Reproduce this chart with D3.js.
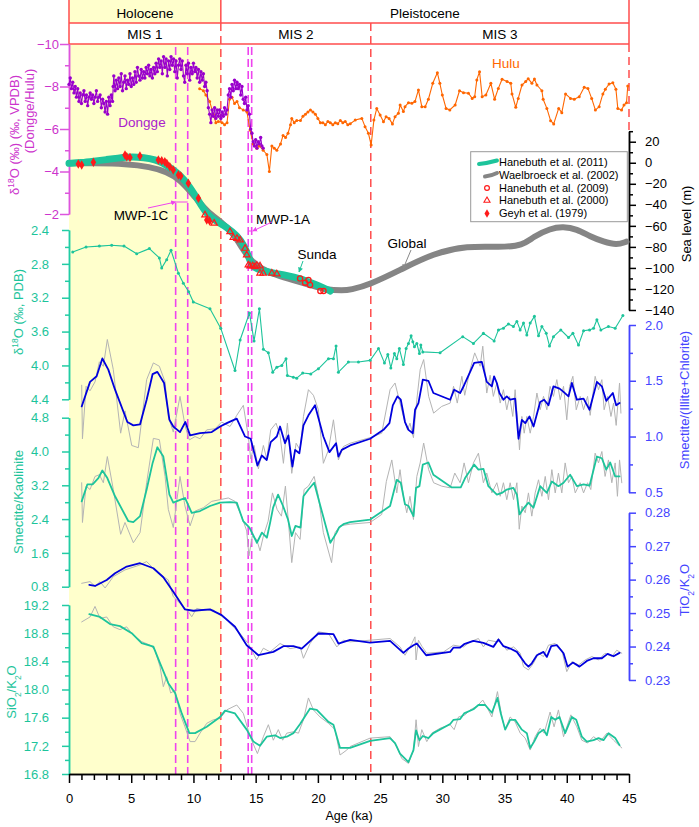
<!DOCTYPE html>
<html><head><meta charset="utf-8">
<script src="https://cdn.jsdelivr.net/npm/d3@7"></script>
<style>body{margin:0;background:#fff;} svg{display:block;font-family:"Liberation Sans",Arial,sans-serif;}</style>
</head><body><svg id="c" width="699" height="827"></svg>
<script>
// ---------------- DATA ----------------
const ageTicksMajor = [0,5,10,15,20,25,30,35,40,45];
const periods = [["Holocene",0,12.2],["Pleistocene",12.2,45]];
const misStages = [["MIS 1",0,12.2],["MIS 2",12.2,24.25],["MIS 3",24.25,45]];
const redDashAges = [12.2,24.25];
const mwpAges = [8.57,9.54,14.4,14.68];

const dongge = [[0,-8.1],[0.1,-8.4],[0.2,-7.9],[0.3,-8.2],[0.4,-7.7],[0.5,-8.0],[0.6,-7.5],[0.7,-7.9],[0.8,-7.3],[0.9,-7.7],
[1.0,-7.2],[1.1,-7.6],[1.2,-7.8],[1.3,-7.3],[1.4,-7.6],[1.5,-7.1],[1.6,-7.5],[1.7,-7.7],[1.8,-7.4],[1.9,-7.6],
[2.0,-7.2],[2.1,-7.5],[2.2,-7.8],[2.3,-7.3],[2.4,-7.5],[2.5,-7.6],[2.6,-7.0],[2.7,-7.4],[2.8,-7.2],[2.9,-6.8],
[3.0,-7.3],[3.1,-6.7],[3.2,-7.5],[3.3,-7.1],[3.4,-7.6],[3.5,-7.3],[3.55,-8.0],[3.6,-8.5],[3.7,-7.8],[3.8,-8.3],
[3.9,-7.9],[4.0,-8.4],[4.1,-8.0],[4.2,-8.6],[4.3,-7.8],[4.4,-8.2],[4.5,-8.5],[4.6,-7.9],[4.7,-8.3],[4.8,-8.1],
[4.9,-8.6],[5.0,-8.0],[5.1,-8.4],[5.2,-8.1],[5.3,-8.7],[5.4,-8.2],[5.5,-8.9],[5.6,-8.5],[5.7,-8.3],[5.8,-8.8],
[5.9,-8.4],[6.0,-8.7],[6.1,-8.4],[6.2,-8.9],[6.3,-8.6],[6.4,-9.0],[6.5,-8.5],[6.6,-8.8],[6.7,-8.4],[6.8,-8.9],
[6.9,-8.6],[7.0,-9.1],[7.1,-8.7],[7.2,-9.3],[7.3,-8.9],[7.4,-9.2],[7.5,-8.6],[7.6,-9.4],[7.7,-8.9],[7.8,-9.3],
[7.9,-8.5],[8.0,-9.2],[8.1,-8.8],[8.2,-9.4],[8.3,-9.0],[8.4,-9.3],[8.5,-8.7],[8.6,-9.2],[8.7,-8.4],[8.8,-9.0],
[8.9,-9.3],[9.0,-8.8],[9.1,-9.2],[9.2,-8.5],[9.3,-8.2],[9.4,-9.0],[9.5,-8.6],[9.6,-9.1],[9.7,-8.3],[9.8,-8.9],
[9.9,-8.6],[10.0,-9.1],[10.1,-8.7],[10.2,-8.9],[10.3,-8.4],[10.4,-8.8],[10.5,-8.2],[10.6,-8.7],[10.7,-8.3],[10.8,-8.6],
[10.9,-8.0],[11.0,-8.2],[11.1,-7.8],[11.2,-7.0],[11.3,-6.7],[11.4,-6.3],[11.5,-6.9],[11.6,-6.6],[11.7,-7.0],[11.8,-6.5],
[11.9,-6.9],[12.0,-6.6],[12.1,-6.9],[12.2,-6.5],[12.3,-6.8],[12.4,-6.6],[12.5,-7.0],[12.6,-6.7],[12.7,-6.9],[12.8,-7.6],
[12.9,-7.9],[13.0,-7.5],[13.1,-8.1],[13.2,-7.8],[13.3,-8.3],[13.4,-7.9],[13.5,-8.2],[13.6,-7.9],[13.7,-8.1],[13.8,-7.6],
[13.9,-8.0],[14.0,-7.4],[14.1,-7.2],[14.2,-7.5],[14.3,-6.9],[14.4,-7.1],[14.5,-6.7],[14.6,-6.0],[14.7,-5.8],[14.8,-5.4],
[14.9,-5.2],[15.0,-5.5],[15.1,-5.1],[15.2,-5.4],[15.3,-5.3],[15.4,-5.6],[15.5,-5.2],[15.6,-5.1]];

const hulu = [[10.5,-7.9],[10.8,-7.8],[11.0,-7.6],[11.3,-7.3],[11.6,-6.7],[11.8,-6.3],[12.0,-6.35],[12.3,-6.3],[12.5,-6.2],[12.7,-6.3],
[12.9,-7.4],[13.1,-7.5],[13.3,-7.2],[13.5,-7.3],[13.7,-7.0],[14.0,-6.9],[14.3,-6.8],[14.55,-5.95],[14.8,-5.3],[15.1,-5.1],
[15.3,-5.2],[15.6,-5.0],[15.9,-4.8],[16.1,-4.0],[16.3,-5.2],[16.5,-5.1],[16.7,-5.0],[17.0,-5.3],[17.2,-5.7],[17.4,-5.6],
[17.6,-5.8],[17.8,-6.2],[17.9,-6.5],[18.1,-6.3],[18.3,-6.4],[18.6,-6.4],[18.8,-6.6],[19.0,-6.7],[19.2,-6.8],[19.4,-6.9],
[19.6,-6.8],[19.8,-6.7],[20.0,-6.5],[20.2,-6.3],[20.4,-6.3],[20.6,-6.2],[20.8,-6.35],[21.0,-6.3],[21.2,-6.2],[21.4,-6.3],
[21.6,-6.25],[21.8,-6.4],[22.0,-6.3],[22.2,-6.35],[22.4,-6.2],[22.6,-6.25],[23.0,-6.42],[23.53,-6.5],[23.79,-6.11],[24.06,-5.8],
[24.28,-5.25],[24.5,-6.42],[24.73,-6.97],[25.0,-6.66],[25.27,-6.34],[25.48,-6.58],[25.72,-6.5],[25.99,-6.24],[26.2,-6.58],[26.47,-6.74],
[26.61,-7.13],[26.87,-6.82],[27.0,-7.05],[27.28,-7.24],[27.55,-7.21],[27.8,-7.29],[28.08,-7.84],[28.35,-7.05],[28.62,-7.05],[28.88,-7.4],
[29.23,-8.15],[29.6,-8.65],[29.8,-8.15],[30.0,-7.6],[30.3,-6.97],[30.6,-6.9],[31.03,-7.13],[31.38,-7.8],[31.7,-7.71],[32.1,-7.68],
[32.4,-7.44],[32.6,-7.52],[32.77,-8.31],[32.99,-8.7],[33.2,-7.52],[33.5,-7.6],[33.9,-8.15],[34.2,-7.4],[34.5,-7.91],[34.8,-8.34],
[35.2,-8.23],[35.5,-8.15],[35.6,-7.65],[35.9,-7.02],[36.1,-7.44],[36.4,-8.07],[36.7,-8.23],[36.9,-8.37],[37.2,-8.15],[37.4,-8.35],
[37.6,-8.07],[38.0,-7.8],[38.1,-7.4],[38.4,-6.97],[38.7,-6.39],[38.95,-6.24],[39.35,-6.97],[39.6,-6.77],[39.9,-7.65],[40.3,-7.44],
[40.6,-7.4],[41.0,-7.52],[41.4,-7.96],[41.7,-7.91],[42.0,-7.44],[42.3,-6.89],[42.6,-7.05],[42.9,-7.65],[43.1,-7.87],[43.4,-8.12],
[43.7,-8.18],[43.95,-7.87],[44.1,-6.97],[44.4,-6.89],[44.6,-7.13],[44.8,-7.24],[44.9,-8.02]];

const seaSunda = [[0,-0.5],[1,0],[2,1.5],[3,3],[4,4.5],[4.6,5.3],[5.5,5.5],[6.5,4.2],[7.3,1.5],[7.85,-2.5],[8.4,-7],[8.9,-11.7],
[9.6,-21],[10.3,-34],[11.1,-50],[11.9,-56],[12.7,-61.5],[13.5,-69],[14.15,-80],[14.4,-89],[14.8,-100],[15.4,-102],[15.9,-103.6],
[16.7,-105.5],[17.5,-107],[18.57,-110],[19.6,-114.7],[20.4,-118.5],[21.0,-122]];
const seaGlobal = [[0,-0.5],[2,-0.5],[4.6,-1],[6.5,-3.8],[7.85,-8.5],[8.9,-15.8],[10.0,-30.7],[11.1,-46.6],[12.2,-56],[13.2,-67],
[14.0,-83],[14.6,-92.5],[15.35,-100.5],[16.7,-107],[18.0,-111.6],[19.4,-116.3],[20.7,-121],[22.0,-121.5],[22.6,-121],[24.2,-115.7],
[26.6,-102],[29.3,-86],[32.0,-79],[34.6,-80.5],[36.5,-78.6],[37.3,-70.3],[38.7,-62.4],[39.7,-60.8],[40.8,-63],[41.9,-70.3],
[42.95,-75],[44.0,-78.3],[44.8,-75]];
const hane2009 = [[18.57,-110],[18.97,-114],[19.24,-111.5],[19.37,-116.3],[20.2,-122],[20.45,-122]];
const hane2000 = [[10.93,-49.7],[11.66,-57.6],[12.94,-65.6],[13.2,-71],[13.5,-72],[13.75,-73.5],[14.15,-81.4],[14.28,-87.7],[14.41,-97.3],
[14.55,-98.2],[14.76,-98.2],[14.95,-98.9],[15.1,-97.6],[15.35,-98.2],[15.35,-105],[15.6,-105],[16.3,-105],[16.7,-105.8]];
const geyh1979 = [[0.75,-1.2],[1.02,-2.2],[1.96,0.4],[4.5,7.3],[4.64,5.7],[4.9,5.1],[5.7,6.4],[7.18,2.6],[7.45,1.9],[7.7,1.0],
[7.86,-0.6],[8.1,-3.8],[8.38,-6.9],[8.79,-11.7],[8.98,-12.6],[9.59,-19.6],[10.4,-33.8],[11.07,-54.5],[11.3,-55.4]];

const d18O = [[0.3,2.66],[1.37,2.60],[2.44,2.59],[3.43,2.58],[4.42,2.59],[5.44,2.68],[6.46,2.62],[7.26,2.73],[7.45,2.85],[7.85,2.75],
[8.2,2.64],[8.79,2.91],[9.19,3.03],[9.62,3.13],[9.99,3.25],[11.33,3.33],[12.19,3.56],[13.34,4.06],[13.75,3.70],[14.5,3.38],
[14.87,3.71],[15.3,3.33],[15.62,3.81],[16.02,3.85],[16.37,4.08],[16.7,4.02],[17.1,4.0],[17.44,3.92],[17.55,4.12],[18.03,4.14],
[18.3,4.15],[18.78,4.09],[19.43,4.10],[20.04,4.04],[20.85,3.92],[21.25,3.92],[21.46,3.77],[21.65,4.08],[22.45,3.96],[23.26,3.96],
[24.2,3.94],[24.87,3.80],[25.35,3.97],[25.62,3.87],[25.86,4.03],[26.15,3.86],[26.34,3.92],[26.55,3.80],[26.87,3.99],[27.09,3.80],
[27.28,3.74],[27.49,3.65],[27.63,3.72],[27.76,3.78],[27.95,3.74],[28.16,3.86],[28.27,3.76],[28.43,3.84],[29.82,3.85],[31.64,3.66],
[32.5,3.74],[33.3,3.62],[34.16,3.71],[34.51,3.58],[34.91,3.56],[35.31,3.51],[35.71,3.54],[35.99,3.48],[36.25,3.58],[36.52,3.50],
[36.79,3.64],[37.06,3.50],[37.4,3.42],[37.73,3.65],[38.0,3.54],[38.35,3.62],[38.61,3.77],[38.93,3.66],[39.52,3.58],[40.14,3.67],
[40.49,3.62],[40.94,3.76],[41.35,3.59],[41.83,3.58],[42.15,3.56],[42.42,3.46],[42.74,3.58],[43.35,3.54],[43.89,3.56],[44.51,3.41]];

const sicRaw = [[1.02,1.46],[1.08,0.98],[1.37,1.45],[1.69,1.41],[2.09,1.49],[2.44,1.67],[2.76,1.63],[3.08,1.87],[3.56,1.60],[4.15,1.03],
[4.5,1.23],[5.04,0.92],[5.57,0.90],[6.24,1.51],[6.78,1.66],[7.26,1.63],[7.72,1.49],[7.98,1.18],[8.38,1.04],[8.92,1.36],
[9.32,1.10],[9.67,0.97],[10.13,1.00],[10.53,0.98],[11.07,1.06],[11.74,1.07],[12.27,1.13],[12.94,1.09],[13.48,1.19],[14.01,1.28],
[14.41,1.00],[14.6,0.80],[14.87,0.92],[15.22,0.71],[15.62,0.92],[15.89,0.80],[16.21,1.06],[16.64,1.12],[16.96,1.01],[17.23,0.76],
[17.55,1.12],[17.9,0.67],[18.25,0.94],[18.57,0.88],[18.84,1.18],[19.24,1.42],[19.64,1.37],[20.04,1.24],[20.44,0.76],[20.85,0.88],
[21.25,1.15],[21.65,0.79],[22.05,0.91],[22.59,0.94],[24.2,0.99],[25.13,1.03],[25.8,1.42],[26.2,1.48],[26.6,1.30],[26.87,1.18],
[27.2,1.06],[27.4,1.12],[27.68,0.99],[27.95,1.33],[28.22,1.60],[28.5,1.69],[28.9,1.36],[29.3,1.21],[29.95,1.27],[30.63,1.30],
[30.9,1.45],[31.2,1.30],[31.57,1.54],[31.8,1.37],[32.23,1.60],[32.6,1.75],[33.04,1.63],[33.25,1.81],[33.57,1.39],[33.84,1.55],
[34.1,1.36],[34.38,1.48],[34.65,1.30],[34.91,1.42],[35.18,1.24],[35.4,1.36],[35.66,1.18],[35.85,1.42],[36.06,1.12],[36.2,0.88],
[36.39,1.18],[36.58,1.03],[36.79,1.18],[37.06,1.03],[37.33,1.18],[37.6,1.39],[37.86,1.24],[38.13,1.36],[38.4,1.24],[38.66,1.45],
[38.93,1.36],[39.2,1.51],[39.47,1.33],[39.74,1.45],[40.0,1.15],[40.22,1.45],[40.49,1.54],[40.76,1.24],[41.08,1.36],[41.35,1.24],
[41.67,1.36],[41.88,1.19],[42.28,1.54],[42.55,1.42],[42.82,1.51],[43.0,1.24],[43.28,1.36],[43.55,1.18],[43.76,1.30],[43.97,1.10],
[44.24,1.48],[44.35,1.21]];
const sicSmooth = [[1.02,1.27],[1.69,1.49],[2.22,1.54],[2.68,1.70],[3.16,1.60],[3.7,1.42],[4.69,1.13],[5.17,1.10],[5.71,1.11],[6.24,1.33],
[6.72,1.56],[7.1,1.58],[7.64,1.48],[8.07,1.15],[8.38,1.09],[8.92,1.04],[9.35,1.13],[9.73,1.01],[10.53,1.03],[11.47,1.04],
[12.14,1.09],[12.68,1.12],[13.48,1.16],[14.15,1.00],[14.6,0.98],[15.14,0.74],[15.49,0.83],[15.89,0.79],[16.21,0.95],[16.7,1.00],
[16.96,1.09],[17.36,0.94],[17.63,1.01],[17.95,0.73],[18.17,0.88],[18.51,0.85],[18.84,1.10],[19.24,1.19],[19.77,1.28],[20.44,1.00],
[20.93,0.86],[21.46,0.94],[21.65,0.82],[21.92,0.88],[22.59,0.92],[24.2,0.98],[25.27,1.06],[25.75,1.12],[26.02,1.28],[26.39,1.36],
[26.66,1.33],[27.0,1.13],[27.28,1.06],[27.63,1.03],[27.81,1.24],[28.08,1.30],[28.43,1.51],[28.88,1.50],[29.28,1.39],[30.63,1.33],
[30.95,1.42],[31.43,1.39],[31.75,1.46],[32.56,1.66],[33.17,1.67],[33.57,1.49],[33.98,1.45],[34.16,1.54],[34.38,1.48],[34.59,1.39],
[34.91,1.33],[35.18,1.36],[35.45,1.33],[35.85,1.34],[36.12,0.98],[36.39,1.15],[36.66,1.12],[37.0,1.18],[37.33,1.09],[37.86,1.31],
[38.18,1.33],[38.53,1.28],[38.93,1.45],[39.42,1.43],[39.74,1.40],[40.14,1.36],[40.41,1.48],[40.81,1.33],[41.35,1.34],[41.83,1.24],
[42.42,1.49],[42.82,1.45],[43.17,1.32],[43.7,1.39],[43.97,1.28],[44.24,1.30]];

const skRaw = [[1.02,3.26],[1.08,2.32],[1.37,3.18],[1.69,3.10],[2.09,3.41],[2.44,3.45],[2.76,3.26],[3.08,3.88],[3.56,3.10],[4.15,2.04],
[4.5,2.32],[5.17,1.84],[5.71,2.08],[6.24,3.26],[6.78,4.31],[7.26,4.28],[7.72,3.41],[7.98,2.63],[8.38,2.20],[8.92,3.41],
[9.32,2.71],[9.73,2.24],[10.13,2.59],[10.8,2.67],[11.47,2.82],[12.13,2.86],[12.8,2.90],[13.34,2.82],[13.87,2.47],[14.28,2.12],
[14.46,1.53],[14.73,2.0],[15.08,1.92],[15.35,1.65],[15.62,2.0],[16.0,2.35],[16.35,3.02],[16.72,2.63],[17.07,2.47],[17.39,3.18],
[17.66,2.24],[17.9,1.37],[18.2,2.08],[18.57,1.92],[18.89,3.10],[19.24,3.18],[19.7,3.41],[20.04,2.94],[20.44,2.08],[21.1,1.37],
[21.38,2.08],[21.78,2.24],[22.59,2.28],[24.2,2.32],[25.13,2.51],[25.5,3.29],[25.94,3.80],[26.34,3.02],[26.6,3.57],[26.87,2.94],
[27.14,2.55],[27.4,2.94],[27.68,2.39],[27.95,3.41],[28.22,3.73],[28.5,4.20],[28.9,3.57],[29.3,3.26],[29.95,3.18],[30.63,3.14],
[31.0,3.49],[31.43,3.26],[31.75,3.73],[32.1,3.26],[32.5,3.73],[32.9,3.96],[33.3,3.26],[33.57,3.49],[33.98,3.02],[34.38,3.26],
[34.65,2.94],[34.91,3.26],[35.18,2.86],[35.45,3.26],[35.72,2.86],[35.99,3.26],[36.18,2.16],[36.39,2.71],[36.66,2.55],[36.92,3.02],
[37.19,2.47],[37.46,3.02],[37.73,3.33],[38.0,2.94],[38.27,3.41],[38.53,2.86],[38.8,3.57],[39.07,3.02],[39.33,3.49],[39.6,3.02],
[39.87,3.73],[40.14,3.26],[40.41,3.41],[40.68,3.02],[41.08,3.26],[41.35,3.02],[41.67,3.26],[41.93,3.10],[42.28,3.96],[42.55,3.73],
[42.82,4.00],[43.08,3.41],[43.35,3.80],[43.62,3.26],[43.89,3.73],[44.07,2.94],[44.24,3.80],[44.42,3.26]];
const skSmooth = [[1.02,2.82],[1.47,3.22],[1.9,3.22],[2.36,3.37],[2.68,3.55],[3.08,3.37],[3.7,2.94],[4.77,2.35],[5.17,2.33],[5.71,2.47],
[6.24,3.10],[6.72,3.73],[7.1,4.10],[7.58,3.88],[8.07,2.98],[8.38,2.79],[8.98,2.86],[9.32,2.90],[9.86,2.55],[10.53,2.59],
[11.33,2.71],[12.14,2.79],[12.94,2.80],[13.48,2.79],[14.0,2.35],[14.5,2.2],[15.1,1.84],[15.5,2.08],[15.9,1.96],[16.16,2.31],
[16.4,2.67],[16.8,2.98],[17.2,2.71],[17.6,2.39],[17.9,2.0],[18.2,2.24],[18.6,2.2],[18.84,2.94],[19.24,3.10],[19.7,3.26],
[20.2,2.71],[21.0,1.84],[21.5,2.08],[21.7,2.2],[22.05,2.28],[22.59,2.33],[24.2,2.39],[25.8,2.71],[26.34,3.33],[26.66,3.26],
[27.0,2.75],[27.28,2.71],[27.68,2.47],[27.89,3.14],[28.16,3.18],[28.43,3.69],[28.88,3.74],[29.28,3.45],[30.76,3.15],[31.48,3.15],
[31.83,3.37],[32.56,3.69],[32.9,3.57],[33.3,3.59],[33.7,3.18],[34.38,2.98],[34.78,3.02],[35.18,3.10],[35.71,3.14],[35.99,2.98],
[36.2,2.51],[36.47,2.63],[36.92,2.79],[37.32,2.67],[37.86,3.18],[38.4,3.02],[38.8,3.29],[39.33,3.18],[39.74,3.26],[40.27,3.45],
[40.81,3.18],[41.35,3.22],[41.83,3.19],[42.42,3.88],[42.82,3.84],[43.17,3.57],[43.49,3.74],[43.89,3.41],[44.24,3.41]];

const tiRaw = [[1.02,0.2589],[1.69,0.2594],[2.09,0.2580],[2.49,0.2594],[2.9,0.2575],[3.56,0.2609],[4.5,0.2629],[5.71,0.2644],[6.24,0.2654],[6.9,0.2629],
[7.58,0.2609],[7.98,0.2599],[8.38,0.2549],[9.06,0.2524],[9.6,0.2504],[9.86,0.2489],[10.26,0.2514],[10.8,0.2509],[11.6,0.2509],[12.67,0.2479],
[13.74,0.2439],[14.41,0.2409],[15.08,0.2360],[15.62,0.2395],[16.16,0.2384],[16.96,0.2409],[17.77,0.2394],[18.57,0.2399],[18.84,0.2365],[19.37,0.2409],
[20.04,0.2444],[20.85,0.2439],[21.52,0.2399],[22.05,0.2419],[22.59,0.2414],[24.2,0.2419],[25.8,0.2424],[26.6,0.2399],[27.0,0.2374],[27.55,0.2409],
[27.8,0.2429],[27.89,0.2360],[28.08,0.2419],[28.35,0.2401],[28.75,0.2380],[30.1,0.2384],[30.9,0.2404],[31.7,0.2399],[32.23,0.2414],[32.9,0.2424],
[33.3,0.2399],[33.7,0.2419],[34.38,0.2414],[34.51,0.2424],[35.18,0.2389],[35.72,0.2399],[36.26,0.2380],[36.52,0.2340],[36.92,0.2330],[37.32,0.2350],
[37.73,0.2380],[38.13,0.2370],[38.53,0.2404],[39.07,0.2409],[39.6,0.2389],[40.0,0.2325],[40.41,0.2355],[40.95,0.2345],[41.48,0.2360],[42.02,0.2370],
[42.55,0.2360],[43.08,0.2380],[43.62,0.2370],[44.02,0.2389],[44.42,0.2380]];
const tiSmooth = [[1.63,0.2584],[2.09,0.2581],[3.03,0.2599],[3.7,0.2619],[4.64,0.2639],[5.71,0.2649],[6.78,0.2634],[7.58,0.2607],[8.38,0.2564],[9.32,0.2511],
[9.99,0.2507],[11.33,0.2511],[12.27,0.2494],[13.34,0.2459],[14.28,0.2404],[15.22,0.2374],[16.42,0.2384],[17.23,0.2401],[18.03,0.2401],[18.7,0.2394],
[20.04,0.2439],[21.25,0.2437],[21.65,0.2409],[22.59,0.2420],[24.2,0.2412],[25.8,0.2417],[26.87,0.2381],[27.28,0.2394],[27.68,0.2404],[27.95,0.2409],
[28.27,0.2394],[28.7,0.2374],[30.63,0.2384],[30.9,0.2397],[31.43,0.2397],[31.75,0.2407],[32.5,0.2417],[33.3,0.2411],[34.1,0.2399],[34.51,0.2421],
[34.91,0.2401],[35.45,0.2394],[35.99,0.2384],[36.65,0.2350],[36.92,0.2340],[37.19,0.2350],[37.6,0.2374],[38.13,0.2384],[38.4,0.2369],[38.75,0.2401],
[39.2,0.2404],[39.74,0.2380],[40.06,0.2340],[40.49,0.2352],[41.02,0.2340],[41.61,0.2357],[42.15,0.2365],[42.82,0.2365],[43.28,0.2378],[43.76,0.2371],[44.24,0.2381]];

const siRaw = [[1.02,18.96],[1.69,19.03],[2.09,19.18],[2.49,19.01],[3.03,19.03],[3.56,18.89],[4.1,18.85],[4.63,18.89],[5.17,18.77],[5.84,18.68],
[6.51,18.63],[6.91,18.56],[7.32,18.32],[7.58,18.04],[7.85,18.18],[8.17,17.95],[8.52,17.99],[8.92,17.66],[9.32,17.47],[9.73,17.26],
[10.13,17.26],[10.53,17.38],[11.07,17.52],[11.6,17.57],[12.14,17.59],[12.67,17.71],[13.48,17.78],[14.01,17.66],[14.55,17.33],[15.14,17.09],
[15.62,17.33],[16.02,17.50],[16.42,17.28],[16.82,17.43],[17.17,17.28],[17.5,17.38],[18.03,17.40],[18.44,17.38],[18.84,17.57],[19.24,17.88],
[19.64,17.71],[20.17,17.61],[20.85,17.52],[21.38,17.43],[21.78,17.07],[22.32,17.14],[22.59,17.19],[24.2,17.31],[25.8,17.33],[26.34,17.19],
[26.74,17.02],[27.28,16.95],[27.68,17.14],[27.89,17.57],[28.08,17.19],[28.35,17.43],[28.75,17.26],[29.15,17.38],[29.82,17.45],[30.63,17.50],
[30.95,17.43],[31.3,17.61],[31.83,17.64],[32.23,17.71],[32.77,17.76],[33.25,17.85],[33.7,17.71],[33.98,17.61],[34.43,17.97],[34.78,17.61],
[35.05,17.43],[35.45,17.61],[35.85,17.54],[36.26,17.38],[36.66,17.31],[37.06,17.14],[37.46,17.33],[37.86,17.45],[38.18,17.38],[38.66,17.68],
[38.98,17.47],[39.33,17.71],[39.74,17.33],[40.33,17.64],[40.81,17.47],[41.21,17.28],[41.67,17.24],[42.15,17.33],[42.68,17.26],[43.22,17.38],
[43.76,17.28],[44.42,17.17]];
const siSmooth = [[1.63,19.07],[2.49,19.03],[3.3,18.93],[4.1,18.90],[5.04,18.80],[5.84,18.66],[6.78,18.61],[7.32,18.37],[7.98,18.09],[8.52,17.95],
[9.06,17.66],[9.67,17.38],[10.13,17.38],[11.07,17.47],[12.14,17.61],[12.54,17.70],[13.34,17.66],[14.28,17.43],[14.82,17.26],[15.35,17.20],
[15.89,17.33],[16.56,17.35],[16.96,17.31],[17.5,17.33],[18.03,17.38],[18.57,17.51],[19.37,17.73],[19.91,17.71],[20.85,17.54],[21.25,17.50],
[21.78,17.17],[22.59,17.17],[24.2,17.27],[25.8,17.31],[26.2,17.24],[26.6,17.09],[27.28,16.97],[27.68,17.14],[27.89,17.42],[28.16,17.28],
[28.43,17.34],[28.88,17.31],[29.28,17.38],[30.63,17.51],[30.9,17.57],[31.43,17.58],[31.75,17.66],[32.5,17.72],[32.9,17.78],[33.44,17.78],
[33.98,17.67],[34.43,17.88],[34.7,17.66],[35.05,17.43],[35.45,17.57],[35.85,17.57],[36.39,17.43],[36.79,17.38],[37.06,17.17],[37.38,17.26],
[37.73,17.38],[38.13,17.43],[38.4,17.35],[38.75,17.61],[39.07,17.57],[39.41,17.61],[39.87,17.38],[40.41,17.61],[40.76,17.57],[41.21,17.33],
[41.61,17.26],[42.15,17.28],[42.55,17.31],[42.95,17.28],[43.35,17.38],[43.89,17.31],[44.24,17.21]];

const legendItems = ["Hanebuth et al. (2011)","Waelbroeck et al. (2002)","Hanebuth et al. (2009)","Hanebuth et al. (2000)","Geyh et al. (1979)"];

// ---------------- COLOURS ----------------
const C = {yellow:"#ffffcc", red:"#ff4d4d", mag:"#ee44ee", magText:"#cc33cc", purple:"#9900cc", orange:"#ff6600",
  teal:"#1dc49b", tealAxis:"#22cca4", blue:"#0000dd", blueAxis:"#4444ff", grayRaw:"#b4b4b4", grayThick:"#858585", ptRed:"#ff1a1a"};

// ---------------- SCALES ----------------
const svg = d3.select("#c");
const x = d3.scaleLinear().domain([0,45]).range([69,629]);
const yD = d3.scaleLinear().domain([-10,-2]).range([44,214]);
const ySea = d3.scaleLinear().domain([30,-140]).range([131.2,310]);
const yO = d3.scaleLinear().domain([2.4,4.4]).range([230,399.3]);
const ySIC = d3.scaleLinear().domain([0.5,2.0]).range([492.3,325]);
const ySK = d3.scaleLinear().domain([0.8,4.8]).range([586.7,417.7]);
const yTi = d3.scaleLinear().domain([0.23,0.28]).range([680,512.7]);
const ySi = d3.scaleLinear().domain([16.8,19.2]).range([774,605]);
const FS = 13;

// background shading
svg.append("rect").attr("x",x(0)).attr("y",0).attr("width",x(12.2)-x(0)).attr("height",23).attr("fill",C.yellow);
svg.append("rect").attr("x",x(0)).attr("y",44).attr("width",x(12.2)-x(0)).attr("height",774-44).attr("fill",C.yellow);

// header lines
const hdr = svg.append("g").attr("stroke",C.red).attr("stroke-width",1.5);
hdr.append("line").attr("x1",x(0)).attr("x2",x(45)).attr("y1",23).attr("y2",23);
hdr.append("line").attr("x1",x(0)).attr("x2",x(45)).attr("y1",44).attr("y2",44);
hdr.append("line").attr("x1",x(0)).attr("x2",x(0)).attr("y1",0).attr("y2",44);
hdr.append("line").attr("x1",x(45)).attr("x2",x(45)).attr("y1",0).attr("y2",44);
hdr.append("line").attr("x1",x(12.2)).attr("x2",x(12.2)).attr("y1",0).attr("y2",23);
periods.forEach(p=>svg.append("text").attr("x",(x(p[1])+x(p[2]))/2).attr("y",13).attr("dy","0.35em").attr("text-anchor","middle").attr("font-size",13.5).text(p[0]));
misStages.forEach(p=>svg.append("text").attr("x",(x(p[1])+x(p[2]))/2).attr("y",34).attr("dy","0.35em").attr("text-anchor","middle").attr("font-size",13.5).text(p[0]));

// red dashed
redDashAges.forEach(a=>svg.append("line").attr("x1",x(a)).attr("x2",x(a)).attr("y1",23).attr("y2",774).attr("stroke",C.red).attr("stroke-width",1.5).attr("stroke-dasharray","8,5"));
svg.append("line").attr("x1",x(45)).attr("x2",x(45)).attr("y1",44).attr("y2",134).attr("stroke",C.red).attr("stroke-width",1.5).attr("stroke-dasharray","8,5");
// magenta dashed
mwpAges.forEach(a=>svg.append("line").attr("x1",x(a)).attr("x2",x(a)).attr("y1",47).attr("y2",774).attr("stroke",C.mag).attr("stroke-width",1.6).attr("stroke-dasharray","8,4"));

// ---------------- AXES ----------------
function yAxis(scale, side, major, minor, color, textColor, fmt, tsize, pad){
  const xp = side==="left"?69:629;
  const mk = side==="left"?d3.axisLeft:d3.axisRight;
  const g2 = svg.append("g").attr("transform",`translate(${xp},0)`).call(mk(scale).tickValues(minor).tickSize(4).tickSizeOuter(0).tickFormat(""));
  const g = svg.append("g").attr("transform",`translate(${xp},0)`).call(mk(scale).tickValues(major).tickSize(tsize).tickSizeOuter(0).tickPadding(pad).tickFormat(fmt));
  [g,g2].forEach(gg=>{gg.selectAll("path,line").attr("stroke",color).attr("stroke-width",1.5);});
  g.selectAll("text").attr("fill",textColor).attr("font-size",FS).attr("font-family","Liberation Sans, Arial, sans-serif");
}
const rng=(a,b,s)=>{const r=[];for(let v=a;v<=b+s/1000;v+=s)r.push(+v.toFixed(4));return r;};
yAxis(yD,"left",[-10,-8,-6,-4,-2],[-9,-7,-5,-3],"#dd55dd",C.magText,d3.format("d"),9,1);
yAxis(yO,"left",[2.4,2.8,3.2,3.6,4.0,4.4],[2.6,3.0,3.4,3.8,4.2],C.tealAxis,C.teal,d3.format(".1f"),7,13);
yAxis(ySK,"left",[0.8,1.6,2.4,3.2,4.0,4.8],[1.2,2.0,2.8,3.6,4.4],C.tealAxis,C.teal,d3.format(".1f"),7,13);
yAxis(ySi,"left",[16.8,17.2,17.6,18.0,18.4,18.8,19.2],[17.0,17.4,17.8,18.2,18.6,19.0],C.tealAxis,C.teal,d3.format(".1f"),7,13);
yAxis(ySea,"right",[20,0,-20,-40,-60,-80,-100,-120,-140],[30,10,-10,-30,-50,-70,-90,-110,-130],"#000","#000",d3.format("d"),7,9);
yAxis(ySIC,"right",[0.5,1.0,1.5,2.0],[0.75,1.25,1.75],C.blueAxis,C.blueAxis,d3.format(".1f"),7,9);
yAxis(yTi,"right",[0.23,0.24,0.25,0.26,0.27,0.28],[0.235,0.245,0.255,0.265,0.275],C.blueAxis,C.blueAxis,d3.format(".2f"),7,9);

// bottom axis
const minorAges = d3.range(0,46).filter(v=>v%5!==0);
const gb2 = svg.append("g").attr("transform","translate(0,774)").call(d3.axisBottom(x).tickValues(minorAges).tickSize(6).tickSizeOuter(0).tickFormat(""));
const gb = svg.append("g").attr("transform","translate(0,774)").call(d3.axisBottom(x).tickValues(ageTicksMajor).tickSize(9).tickSizeOuter(0).tickPadding(11).tickFormat(d3.format("d")));
[gb,gb2].forEach(g=>g.selectAll("path,line").attr("stroke","#000").attr("stroke-width",1.5));
gb.selectAll("text").attr("font-size",FS).attr("fill","#000").attr("font-family","Liberation Sans, Arial, sans-serif");
svg.append("text").attr("x",349).attr("y",820).attr("text-anchor","middle").attr("font-size",12.5).text("Age (ka)");

// ---------------- AXIS TITLES ----------------
function vtitle(xp, yp, color, parts, fs){
  const t = svg.append("text").attr("transform",`translate(${xp},${yp}) rotate(-90)`).attr("text-anchor","middle").attr("fill",color).attr("font-size",fs||13).attr("dy","0.35em");
  parts.forEach(p=>{
    const s = t.append("tspan").text(p[0]);
    if(p[1]==="sup") s.attr("baseline-shift","super").attr("font-size",(fs||13)*0.65);
    if(p[1]==="sub") s.attr("baseline-shift","sub").attr("font-size",(fs||13)*0.65);
  });
}
vtitle(14,135,C.magText,[["δ"],["18","sup"],["O (‰) (‰, VPDB)"]]);
vtitle(29,111,C.magText,[["(Dongge/Hulu)"]]);
vtitle(18,312,C.teal,[["δ"],["18","sup"],["O (‰, PDB)"]]);
vtitle(18,502,C.teal,[["Smectite/Kaolinite"]]);
vtitle(11,692,C.teal,[["SiO"],["2","sub"],["/K"],["2","sub"],["O"]]);
vtitle(686,224,"#000",[["Sea level (m)"]]);
vtitle(684,400,C.blueAxis,[["Smectite/(Illite+Chlorite)"]]);
vtitle(684,590,C.blueAxis,[["TiO"],["2","sub"],["/K"],["2","sub"],["O"]]);

// ---------------- SERIES ----------------
function line(data, ys, color, w, curve){
  svg.append("path").datum(data).attr("fill","none").attr("stroke",color).attr("stroke-width",w).attr("stroke-linejoin","round").attr("stroke-linecap","round")
    .attr("d",d3.line().x(d=>x(d[0])).y(d=>ys(d[1])).curve(curve||d3.curveLinear));
}
function dots(data, ys, color, r){
  svg.append("g").selectAll("circle").data(data).join("circle").attr("cx",d=>x(d[0])).attr("cy",d=>ys(d[1])).attr("r",r).attr("fill",color);
}
// Hulu & Dongge
line(hulu,yD,C.orange,1.1); dots(hulu,yD,C.orange,1.5);
line(dongge,yD,C.purple,1.1); dots(dongge,yD,C.purple,1.7);
// sea level
line(seaGlobal,ySea,C.grayThick,6,d3.curveBasis);
line(seaSunda,ySea,C.teal,7,d3.curveBasis);
svg.append("g").selectAll("path").data(geyh1979).join("path").attr("transform",d=>`translate(${x(d[0])},${ySea(d[1])})`)
  .attr("d",d3.symbol(d3.symbolDiamond,26)).attr("fill",C.ptRed);
svg.append("g").selectAll("path").data(hane2000).join("path").attr("transform",d=>`translate(${x(d[0])},${ySea(d[1])})`)
  .attr("d",d3.symbol(d3.symbolTriangle,18)).attr("fill","none").attr("stroke",C.ptRed).attr("stroke-width",1.2);
svg.append("g").selectAll("circle").data(hane2009).join("circle").attr("cx",d=>x(d[0])).attr("cy",d=>ySea(d[1])).attr("r",2.6)
  .attr("fill","none").attr("stroke",C.ptRed).attr("stroke-width",1.3);
// δ18O
line(d18O,yO,C.teal,1.1); dots(d18O,yO,C.teal,1.5);
// clay & geochem
line(sicRaw,ySIC,C.grayRaw,1); line(sicSmooth,ySIC,C.blue,1.8);
line(skRaw,ySK,C.grayRaw,1); line(skSmooth,ySK,C.teal,1.8);
line(tiRaw,yTi,C.grayRaw,1); line(tiSmooth,yTi,C.blue,1.8);
line(siRaw,ySi,C.grayRaw,1); line(siSmooth,ySi,C.teal,1.8);

// ---------------- ANNOTATIONS ----------------
svg.append("defs").html(`<marker id="am" viewBox="0 0 10 10" refX="9" refY="5" markerWidth="5" markerHeight="5" orient="auto"><path d="M0,0L10,5L0,10z" fill="${C.mag}"/></marker>
<marker id="at" viewBox="0 0 10 10" refX="9" refY="5" markerWidth="5" markerHeight="5" orient="auto"><path d="M0,0L10,5L0,10z" fill="${C.teal}"/></marker>
<marker id="ag" viewBox="0 0 10 10" refX="9" refY="5" markerWidth="5" markerHeight="5" orient="auto"><path d="M0,0L10,5L0,10z" fill="#888"/></marker>`);
svg.append("text").attr("x",506).attr("y",63).attr("dy","0.35em").attr("text-anchor","middle").attr("fill",C.orange).attr("font-size",13.5).text("Hulu");
svg.append("text").attr("x",142).attr("y",122).attr("dy","0.35em").attr("text-anchor","middle").attr("fill","#aa22cc").attr("font-size",13.5).text("Dongge");
svg.append("text").attr("x",141).attr("y",215).attr("dy","0.35em").attr("text-anchor","middle").attr("font-size",13.5).text("MWP-1C");
svg.append("line").attr("x1",148).attr("y1",208).attr("x2",x(8.57)).attr("y2",202).attr("stroke",C.mag).attr("stroke-width",1).attr("marker-end","url(#am)");
svg.append("line").attr("x1",x(8.57)).attr("y1",202).attr("x2",x(9.54)).attr("y2",202).attr("stroke",C.mag).attr("stroke-width",1);
svg.append("text").attr("x",283).attr("y",219).attr("dy","0.35em").attr("text-anchor","middle").attr("font-size",13.5).text("MWP-1A");
svg.append("line").attr("x1",272).attr("y1",222).attr("x2",x(14.68)+1).attr("y2",231).attr("stroke",C.mag).attr("stroke-width",1).attr("marker-end","url(#am)");
svg.append("line").attr("x1",x(14.4)).attr("y1",231).attr("x2",x(14.68)).attr("y2",231).attr("stroke",C.mag).attr("stroke-width",1);
svg.append("text").attr("x",317).attr("y",254).attr("dy","0.35em").attr("text-anchor","middle").attr("font-size",13.5).text("Sunda");
svg.append("line").attr("x1",303).attr("y1",261).attr("x2",299).attr("y2",272).attr("stroke",C.teal).attr("stroke-width",1).attr("marker-end","url(#at)");
svg.append("text").attr("x",407).attr("y",243).attr("dy","0.35em").attr("text-anchor","middle").attr("font-size",13.5).text("Global");
svg.append("line").attr("x1",411).attr("y1",250).attr("x2",403).attr("y2",269).attr("stroke","#888").attr("stroke-width",1).attr("marker-end","url(#ag)");

// ---------------- LEGEND ----------------
const lg = svg.append("g");
lg.append("rect").attr("x",470.7).attr("y",151.7).attr("width",156.6).attr("height",70).attr("fill","#fff").attr("stroke","#999").attr("stroke-width",1);
const ly = [162.5,175,188,200.5,213.5];
legendItems.forEach((t,i)=>lg.append("text").attr("x",499).attr("y",ly[i]).attr("dy","0.35em").attr("font-size",11).text(t));
lg.append("path").attr("d","M479,164 Q488,163 497,160.5").attr("stroke",C.teal).attr("stroke-width",4).attr("fill","none").attr("stroke-linecap","round");
lg.append("path").attr("d","M485,176.5 Q491,176 497,173").attr("stroke",C.grayThick).attr("stroke-width",4).attr("fill","none").attr("stroke-linecap","round");
lg.append("circle").attr("cx",487).attr("cy",ly[2]).attr("r",2.4).attr("fill","none").attr("stroke",C.ptRed).attr("stroke-width",1.2);
lg.append("path").attr("transform",`translate(487,${ly[3]})`).attr("d",d3.symbol(d3.symbolTriangle,16)).attr("fill","none").attr("stroke",C.ptRed).attr("stroke-width",1.1);
lg.append("path").attr("transform",`translate(487,${ly[4]})`).attr("d",d3.symbol(d3.symbolDiamond,22)).attr("fill",C.ptRed);
</script></body></html>
